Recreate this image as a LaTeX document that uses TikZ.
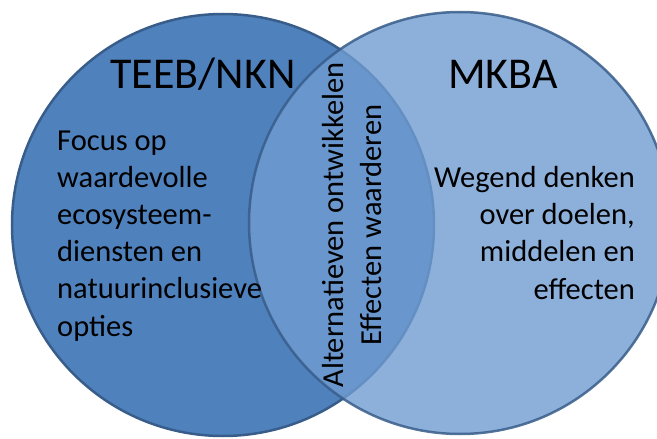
\documentclass[tikz,border=0pt]{standalone}
\usepackage{fontspec}
\newfontfamily\calib{Carlito}
\definecolor{leftblue}{RGB}{79,129,189}
\definecolor{rightblue}{RGB}{112,156,210}
\definecolor{edgeblue}{RGB}{56,93,138}
\tikzset{
  set/.style = {circle, minimum size=422pt, inner sep=0pt, line width=2.5pt, draw=edgeblue},
  title/.style = {font=\calib\fontsize{44}{53}\selectfont, inner sep=0pt},
  body/.style = {font=\calib\fontsize{30.5}{37.2}\selectfont, inner sep=0pt}
}
\begin{document}
\begin{tikzpicture}[x=1pt, y=-1pt]
    \useasboundingbox (0,0) rectangle (657,439);
    \clip (0,0) rectangle (657,439);
    \node[set, fill=leftblue] (teeb) at (223,225) {}; % left set
    \node[set, fill=rightblue, fill opacity=0.8, draw opacity=0.85] (mkba) at (460,223) {}; % right set
    \node[title, anchor=base] (teebtitle) at (203,88) {TEEB/NKN};
    \node[title, anchor=base] (mkbatitle) at (503,88) {MKBA};
    \node[body, anchor=base west, align=left] (teebtext) at (57,336) % baseline of last line
      {Focus op\\waardevolle\\ecosysteem-\\diensten en\\natuurinclusieve\\opties};
    \node[body, anchor=base east, align=right] (mkbatext) at (635,299)
      {Wegend denken\\over doelen,\\middelen en\\effecten};
    \node[body, rotate=90, align=center] (overlap) at (352,225)
      {Alternatieven ontwikkelen\\Effecten waarderen};
  \end{tikzpicture}
\end{document}
